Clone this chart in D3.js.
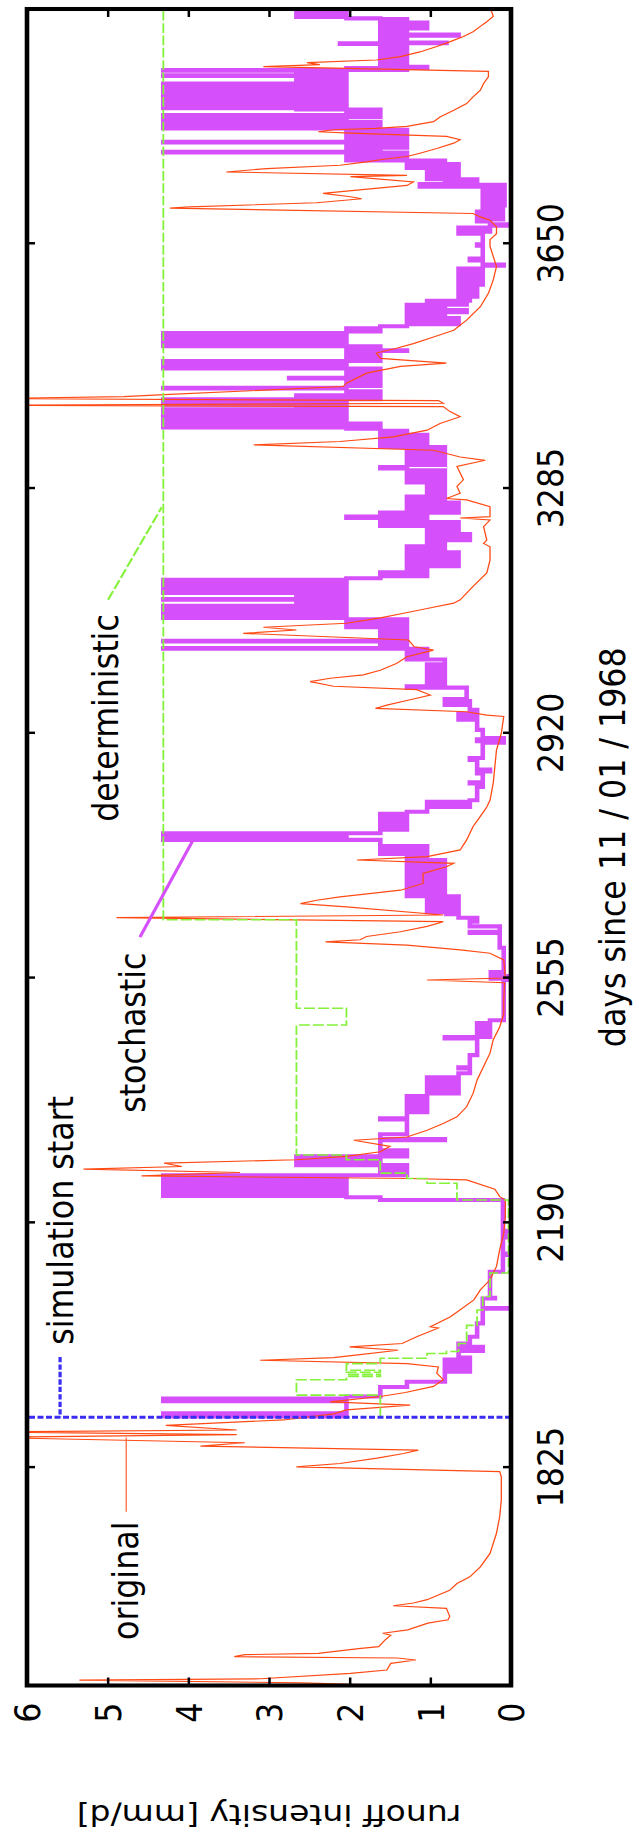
<!DOCTYPE html>
<html>
<head>
<meta charset="UTF-8">
<title>runoff intensity</title>
<script src="https://d3js.org/d3.v7.min.js"></script>
<style>
  body { margin: 0; background: #fff; }
  svg text { font-family: "DejaVu Sans", sans-serif; fill: #000; }
</style>
</head>
<body>
<div id="chart"></div>
<script>
// days since 11/01/1968 and runoff intensity [mm/d]
const dayRange = [1500, 4000];
const runoffRange = [0, 6];
const dayTicks = [1825, 2190, 2555, 2920, 3285, 3650];
const runoffTicks = [0, 1, 2, 3, 4, 5, 6];
const simulationStart = 1900;

const original = [
  [1500,1.45],[1504,2.6],[1508,5.35],[1510,3.1],[1518,1.99],[1523,1.54],[1533,1.49],[1538,1.18],[1541,1.41],[1543,3.43],[1546,3.3],[1548,2.39],[1555,1.89],[1558,1.64],[1568,1.56],[1575,1.49],[1578,1.59],[1583,1.28],[1593,1.03],[1598,0.78],
  [1603,0.76],[1615,0.8],[1619,1.46],[1623,1.21],[1628,1.04],[1642,0.76],[1652,0.67],[1662,0.51],[1677,0.38],[1697,0.26],[1727,0.18],[1752,0.14],[1777,0.12],[1811,0.12],[1819,0.14],[1826,2.66],[1831,2.12],[1839,1.66],[1846,1.33],[1851,1.15],[1857,3.85],[1862,3.3],[1870,6.5],[1874,3.4],[1878,6.5],[1881,3.4],[1888,4.28],
  [1896,2.82],[1905,2.2],[1911,2.04],[1918,1.25],[1923,2.24],[1931,1.62],[1937,1.31],[1946,0.96],[1956,0.84],[1966,0.92],[1975,0.9],[1980,1.29],[1985,3.11],[1989,2.2],[1993,1.9],[2000,1.4],[2005,2.0],[2010,1.35],[2020,1.17],[2033,0.9],[2035,1.0],[2050,0.75],[2075,0.46],[2090,0.38],[2105,0.26],[2125,0.18],[2150,0.14],[2174,0.09],[2199,0.07],[2224,0.07],
  [2229,0.14],[2240,0.2],[2254,0.55],[2256,1.25],[2260,4.58],[2265,3.36],[2270,5.3],[2274,4.08],[2279,4.3],[2284,2.66],[2289,2.04],[2296,1.62],[2304,1.5],[2313,1.95],[2318,1.29],[2328,1.04],[2338,0.84],[2348,0.67],[2363,0.55],[2383,0.47],[2403,0.42],[2423,0.34],[2443,0.26],[2463,0.22],[2482,0.14],[2502,0.09],[2522,0.09],[2548,0.08],[2552,1.04],[2555,0.07],[2582,0.09],[2592,0.26],[2597,0.63],[2604,1.29],[2609,2.3],[2612,1.87],[2617,1.79],[2624,1.37],[2632,1.04],[2639,0.84],[2645,4.89],[2649,0.84],[2661,2.04],[2666,2.61],[2671,2.41],[2676,2.12],[2686,1.37],[2696,1.09],[2711,1.09],[2721,0.8],[2726,0.71],[2731,1.91],[2736,1.04],[2746,0.63],[2761,0.55],[2781,0.47],[2796,0.38],[2810,0.3],
  [2820,0.26],[2846,0.22],[2895,0.18],[2920,0.12],[2945,0.09],[2947,0.3],[2952,0.55],[2957,1.68],[2962,1.54],[2970,1.25],[2977,1.0],[2985,1.17],[2990,2.2],[2997,2.49],[3002,2.24],[3007,1.83],[3014,1.62],[3024,1.42],[3034,1.29],[3044,0.96],[3049,1.2],[3059,1.27],[3069,3.32],[3074,2.66],[3078,3.07],[3084,2.04],[3092,1.62],[3099,1.33],[3106,1.04],[3114,0.71],[3119,0.63],[3139,0.47],[3159,0.3],[3178,0.26],[3198,0.26],[3203,0.34],[3208,0.3],[3228,0.34],[3238,0.26],[3241,0.63],[3243,0.26],[3258,0.26],[3268,0.55],[3270,0.8],[3278,0.63],[3288,0.67],[3298,0.59],[3318,0.67],[3327,0.32],[3332,0.63],[3342,0.96],[3350,3.19],[3355,2.12],[3362,1.46],[3372,1.04],[3382,0.88],[3392,0.63],[3400,0.76],[3407,0.84],
  [3409,6.5],[3412,0.84],[3416,0.9],[3419,6.5],[3422,4.8],[3425,4.3],[3437,2.08],[3442,2.04],[3457,1.79],[3467,1.37],[3472,0.8],[3479,1.62],[3487,1.67],[3494,1.42],[3501,1.21],[3511,0.96],[3521,0.71],[3536,0.55],[3556,0.38],[3576,0.28],[3596,0.22],[3616,0.18],[3631,0.22],[3646,0.26],[3656,0.26],[3665,0.18],[3675,0.18],[3685,0.26],[3690,0.38],[3695,0.47],[3703,4.23],[3705,3.98],[3711,2.41],[3717,1.85],[3720,1.99],[3725,2.33],[3730,1.91],[3737,1.29],[3742,1.21],[3750,1.99],[3752,1.29],[3757,3.53],[3762,3.03],[3767,2.12],[3772,1.79],[3776,1.58],[3780,1.29],[3785,1.13],[3792,0.92],[3800,0.71],[3805,0.63],[3810,0.8],[3815,1.99],[3817,2.39],[3820,2.2],[3822,1.67],[3825,1.29],[3832,0.96],[3839,0.88],[3849,0.71],[3859,0.55],[3869,0.47],[3879,0.38],[3889,0.34],[3899,0.28],[3907,0.28],[3914,3.07],[3917,2.37],[3920,2.53],[3924,1.67],[3929,1.37],[3936,1.13],[3944,0.92],[3951,0.76],[3959,0.59],[3966,0.47],[3974,0.38],[3981,0.3],[3989,0.22],[3996,0.24],[4000,0.26]
];

const stochastic = [
  [1900,4.31],[1901,2.04],[1902,4.31],[1903,2.66],[1904,4.31],[1906,2.04],
  [1924,4.31],[1925,2.66],[1926,4.31],[1928,2.04],
  [1931,1.62],[1945,1.29],[1953,0.82],
  [1968,0.51],[1971,0.82],[1974,0.51],[1977,0.82],[1980,0.51],[1983,0.82],[1986,0.51],[1989,0.65],
  [1999,0.35],[2000,0.65],[2004,0.35],[2005,0.65],
  [2010,0.51],[2020,0.42],[2040,0.35],[2062,0.01],[2063,0.35],[2077,0.2],[2078,0.26],[2117,0.1],[2142,0.01],[2144,0.1],[2168,0.01],[2170,0.1],[2176,0.01],[2178,0.1],
  [2224,1.62],[2228,2.04],[2230,4.31],[2231,2.04],[2233,4.31],[2234,2.04],[2236,4.31],[2237,2.04],[2239,4.31],[2240,2.04],[2242,4.31],[2243,2.04],[2245,4.31],[2246,2.04],[2248,4.31],[2249,2.04],[2251,4.31],[2252,2.04],[2254,4.31],[2255,2.04],[2257,4.31],[2258,2.04],[2260,4.31],
  [2261,1.29],[2263,1.62],[2264,1.29],[2267,1.62],[2268,1.29],[2271,1.62],[2272,1.29],[2276,2.66],[2277,1.62],[2279,2.66],[2280,1.62],[2282,2.66],[2283,1.62],[2285,2.66],[2286,1.62],[2288,2.66],[2289,1.29],
  [2292,1.62],[2293,1.29],[2298,1.62],[2313,0.82],[2315,1.62],[2322,1.29],[2344,1.62],[2346,1.29],
  [2355,1.04],[2358,1.29],[2361,1.04],[2364,1.29],[2367,1.04],[2370,1.29],[2373,1.04],[2376,1.29],[2379,1.04],
  [2383,0.65],[2386,1.04],[2389,0.65],[2392,1.04],[2395,0.65],[2398,1.04],[2401,0.65],[2404,1.04],[2407,0.65],
  [2413,0.51],[2420,0.65],[2422,0.51],[2440,0.42],[2465,0.82],[2467,0.26],[2470,0.42],
  [2476,0.26],[2479,0.42],[2482,0.26],[2485,0.42],[2488,0.26],[2492,0.09],
  [2552,0.01],[2554,0.25],[2556,0.01],[2558,0.09],[2562,0.25],[2564,0.09],
  [2600,0.14],[2622,0.51],[2624,0.14],[2632,0.51],[2639,0.42],[2645,0.65],[2650,0.8],
  [2653,1.04],[2656,0.65],[2659,1.04],[2662,0.65],[2665,1.04],[2668,0.65],[2671,1.04],[2674,0.65],
  [2677,1.29],[2680,0.82],[2683,1.29],[2686,0.82],[2689,1.29],[2692,0.82],[2695,1.29],[2698,0.82],[2701,1.29],[2704,0.82],[2707,1.29],[2710,0.82],
  [2713,1.29],[2716,0.82],[2719,1.29],[2722,0.82],[2725,1.29],[2728,0.82],[2731,1.29],[2734,1.04],
  [2740,1.62],[2742,1.04],[2746,1.62],[2748,1.04],[2752,1.62],
  [2761,4.31],[2762,2.04],[2766,4.31],[2767,2.04],[2770,4.31],[2771,1.62],
  [2776,1.29],[2779,1.62],[2782,1.29],[2785,1.62],[2788,1.29],[2791,1.62],[2794,1.29],[2797,1.62],[2800,1.29],
  [2803,1.04],[2810,0.51],[2813,1.04],[2818,0.51],
  [2820,0.42],[2840,0.35],[2845,0.51],[2847,0.35],[2860,0.42],[2863,0.26],[2866,0.42],[2880,0.51],[2883,0.35],[2906,0.09],[2908,0.42],[2911,0.09],[2913,0.35],[2925,0.42],
  [2940,0.65],[2943,0.42],[2946,0.65],[2949,0.42],[2955,0.51],[2962,0.82],[2965,0.51],[2968,0.82],[2971,0.55],
  [2988,1.29],[2990,0.82],
  [2996,1.04],[2999,0.82],[3002,1.04],[3005,0.82],[3008,1.04],[3011,0.82],[3014,1.04],[3017,0.82],[3020,1.04],[3023,0.82],
  [3030,1.29],[3032,1.04],[3036,1.29],[3039,1.04],[3042,1.29],[3045,1.04],
  [3046,4.31],[3047,1.29],[3050,1.62],[3053,1.29],[3057,4.31],[3058,1.62],[3061,1.29],[3064,1.62],[3067,1.29],[3070,1.62],[3073,1.29],[3076,1.62],
  [3078,2.04],[3081,1.29],[3084,2.04],[3087,1.29],[3090,2.04],
  [3092,4.31],[3093,2.04],[3095,2.66],[3097,2.04],[3099,4.31],[3100,2.66],[3102,2.04],[3104,4.31],[3105,2.04],[3107,2.66],[3109,4.31],[3110,2.04],[3113,2.66],[3115,2.04],[3119,4.31],[3120,2.66],[3123,2.04],[3125,2.66],[3129,4.31],[3130,2.04],[3133,2.66],[3136,4.31],[3137,2.04],[3141,4.31],[3142,2.66],[3145,2.04],[3148,4.31],[3149,2.04],[3151,1.62],
  [3154,1.04],[3157,1.62],[3160,1.29],[3163,1.04],[3166,1.29],
  [3169,0.65],[3172,1.29],[3175,0.65],[3178,1.29],[3181,0.65],[3184,1.29],[3187,0.65],[3190,1.29],[3193,0.82],[3196,1.29],[3199,0.82],
  [3205,1.04],[3208,0.51],[3211,1.04],[3214,0.51],[3217,1.04],[3220,0.65],[3223,1.04],[3226,0.65],
  [3229,1.62],[3232,0.65],[3235,1.62],[3238,1.04],[3241,2.04],[3243,1.04],[3246,1.62],
  [3249,0.65],[3252,1.29],[3255,0.65],[3258,1.29],[3261,0.65],[3264,1.29],[3267,0.82],[3270,1.29],[3273,1.04],
  [3276,0.82],[3279,1.04],[3282,0.82],[3285,1.04],[3288,0.82],[3291,1.04],[3294,1.29],
  [3297,0.82],[3300,1.29],[3303,0.82],[3306,1.29],[3309,0.82],[3312,1.29],[3315,1.62],[3317,1.29],[3320,0.82],[3323,1.29],[3326,0.82],[3329,1.29],[3332,0.82],[3335,1.29],[3338,0.82],[3341,1.29],[3344,0.82],[3347,1.62],
  [3350,1.04],[3353,1.62],[3356,1.04],[3359,1.62],[3362,1.04],[3365,1.62],[3368,1.29],[3371,1.62],
  [3374,2.04],[3376,4.31],[3377,2.04],[3380,1.62],[3382,4.31],[3383,2.04],[3386,2.66],[3388,4.31],[3389,2.04],[3392,4.31],[3393,2.66],[3396,2.04],[3398,4.31],[3399,2.04],[3402,4.31],[3403,2.66],[3406,2.04],[3410,4.31],[3411,2.04],
  [3414,2.66],[3417,4.31],[3418,1.62],[3421,2.66],[3424,2.04],[3427,1.62],[3430,2.04],[3434,4.31],[3435,2.04],
  [3438,1.62],[3441,2.04],[3444,1.62],[3447,2.04],[3449,2.75],[3450,1.62],[3453,2.04],[3456,1.62],
  [3459,2.04],[3462,1.62],[3464,4.31],[3465,2.04],[3469,4.31],[3470,2.04],[3474,4.31],[3475,1.62],[3478,2.04],[3481,1.62],[3484,2.04],
  [3487,1.62],[3490,1.29],[3491,2.04],[3494,1.62],
  [3497,4.31],[3498,2.04],[3501,4.31],[3502,2.66],[3504,2.04],[3506,4.31],[3507,2.04],[3510,2.66],[3511,4.31],[3512,2.04],[3514,2.66],[3516,4.31],[3517,2.04],[3519,1.62],
  [3522,2.04],[3524,1.62],
  [3527,1.29],[3530,0.65],[3533,1.29],[3536,0.65],[3539,1.29],[3542,0.82],[3545,1.29],
  [3548,0.55],[3551,1.29],[3554,0.82],[3557,1.29],[3559,0.55],[3562,1.04],[3565,0.51],
  [3568,0.65],[3571,0.42],[3574,0.65],[3577,0.42],[3580,0.65],[3583,0.42],[3586,0.65],
  [3589,0.35],[3592,0.65],[3595,0.35],[3598,0.65],[3601,0.35],[3604,0.65],[3607,0.35],[3610,0.65],[3613,0.35],
  [3617,0.09],[3619,0.35],[3625,0.51],[3628,0.35],[3647,0.42],[3649,0.35],
  [3665,0.65],[3668,0.26],[3671,0.65],[3674,0.26],[3677,0.01],[3679,0.26],
  [3683,0.42],[3686,0.1],[3689,0.42],[3692,0.1],[3695,0.42],[3698,0.1],
  [3704,0.35],[3707,0.08],[3710,0.35],[3713,0.08],[3716,0.35],[3719,0.08],[3722,0.35],[3725,0.08],[3728,0.35],[3731,0.08],
  [3735,1.13],[3736,0.08],[3738,1.13],[3739,0.42],[3741,0.82],[3743,0.42],
  [3746,1.04],[3749,0.65],[3752,1.04],[3755,0.65],[3758,1.04],[3761,0.65],
  [3763,1.29],[3766,0.65],[3769,1.29],[3772,0.82],
  [3774,2.04],[3777,1.29],[3780,2.04],[3783,1.29],
  [3786,4.31],[3787,1.62],[3790,2.04],[3793,1.29],[3796,2.04],[3799,1.29],[3801,4.31],[3802,1.62],
  [3805,1.29],[3808,2.04],[3811,1.29],[3814,2.04],[3817,1.29],[3820,2.04],
  [3822,4.31],[3823,1.62],[3826,2.04],[3828,4.31],[3829,1.62],[3832,2.04],[3835,4.31],[3836,2.04],[3839,1.62],[3841,4.31],[3842,1.62],
  [3845,2.04],[3847,1.62],
  [3850,2.66],[3852,4.31],[3853,2.04],[3856,2.66],[3858,4.31],[3859,2.04],[3862,2.66],[3864,4.31],[3865,2.04],[3867,4.31],[3868,2.66],[3871,4.31],[3872,2.04],[3874,4.31],[3875,2.66],[3878,4.31],[3879,2.04],[3881,4.31],[3882,2.66],[3885,4.31],[3886,2.04],[3888,4.31],[3889,2.66],[3892,2.04],[3894,2.66],[3897,2.04],[3900,4.31],[3901,2.04],[3903,2.66],[3906,2.04],[3908,4.31],[3909,1.29],
  [3911,2.04],[3912,1.04],[3914,1.62],
  [3917,1.29],[3920,1.62],[3923,1.29],[3926,1.62],[3929,1.29],[3932,1.62],[3935,1.29],[3938,1.62],[3941,1.29],[3944,1.62],
  [3948,2.12],[3949,0.8],[3950,1.62],
  [3953,1.29],[3956,1.62],[3960,0.65],[3962,1.29],[3965,1.62],[3968,1.29],
  [3971,1.04],[3974,1.62],[3977,1.04],[3980,1.62],[3983,1.29],
  [3985,1.62],[3986,2.04],[3988,2.66],[3991,2.04],[3994,2.66],[3997,2.04],[3999,2.66],[4000,2.66]
];

const deterministic = [
  [1900,1.62],[1933,2.66],[1956,2.04],[1961,1.62],[1964,2.04],[1967,1.62],[1970,2.04],[1980,1.62],[1988,1.04],[1995,0.8],[1998,0.65],[2010,0.55],[2037,0.42],[2060,0.35],[2080,0.26],[2115,0.03],
  [2224,0.67],[2249,1.04],[2256,1.29],[2264,1.62],[2284,2.04],[2291,2.66],[2485,2.04],[2510,2.66],[2642,4.31],[4000,4.31]
];

// page layout: the gnuplot figure is turned a quarter turn and squeezed along its day axis
const pageW = 639, pageH = 1841;
const frame = {left: 27, right: 511, top: 9, bottom: 1685.5};
const squeeze = 0.88;
const W = (frame.bottom - frame.top) / squeeze,
      H = frame.right - frame.left;
const fontSize = 36;

const svg = d3.select("#chart").append("svg")
  .attr("width", pageW).attr("height", pageH);

const g = svg.append("g")
  .attr("transform", `translate(${frame.left},${frame.bottom}) rotate(-90) scale(${squeeze},1)`);

const x = d3.scaleLinear().domain(dayRange).range([0, W]);
const y = d3.scaleLinear().domain(runoffRange).range([H, 0]);

g.append("clipPath").attr("id", "plotClip")
  .append("rect").attr("width", W).attr("height", H);

const plot = g.append("g").attr("clip-path", "url(#plotClip)");

const stepLine = d3.line().curve(d3.curveStepAfter).x(d => x(d[0])).y(d => y(d[1]));
const plainLine = d3.line().x(d => x(d[0])).y(d => y(d[1]));

plot.append("path").datum(stochastic)
  .attr("d", stepLine)
  .attr("fill", "none").attr("stroke", "#d54ffb")
  .attr("stroke-width", 4.6).attr("stroke-linejoin", "miter");

plot.append("path").datum(original)
  .attr("d", plainLine)
  .attr("fill", "none").attr("stroke", "#ff4a14")
  .attr("stroke-width", 1.3);

plot.append("path").datum(deterministic)
  .attr("d", stepLine)
  .attr("fill", "none").attr("stroke", "#84f23a")
  .attr("stroke-width", 1.8).attr("stroke-dasharray", "11,3");

plot.append("line")
  .attr("x1", x(simulationStart)).attr("x2", x(simulationStart))
  .attr("y1", y(0)).attr("y2", y(6))
  .attr("stroke", "#3b2df2").attr("stroke-width", 3.6)
  .attr("stroke-dasharray", "6,2.5");

// axes: inward, mirrored ticks
function styleAxis(sel) {
  sel.select(".domain").remove();
  sel.selectAll(".tick line").attr("stroke", "#000");
}

const xBottom = g.append("g").attr("transform", `translate(0,${H})`)
  .call(d3.axisBottom(x).tickValues(dayTicks).tickSize(-8).tickFormat(d3.format("d")))
  .call(styleAxis);
xBottom.selectAll(".tick line").attr("stroke-width", 2.8);
xBottom.selectAll(".tick text")
  .attr("y", 39).attr("dy", "0.36em")
  .style("font-size", fontSize + "px");

g.append("g")
  .call(d3.axisTop(x).tickValues(dayTicks).tickSize(-8).tickFormat(""))
  .call(styleAxis)
  .selectAll(".tick line").attr("stroke-width", 2.8);

const yLeft = g.append("g")
  .call(d3.axisLeft(y).tickValues(runoffTicks).tickSize(-8 / squeeze).tickFormat(d3.format("d")))
  .call(styleAxis);
yLeft.selectAll(".tick line").attr("stroke-width", 2.5);
yLeft.selectAll(".tick text")
  .attr("x", -31).attr("dy", "0.36em").attr("text-anchor", "middle")
  .style("font-size", fontSize + "px");

g.append("g").attr("transform", `translate(${W},0)`)
  .call(d3.axisRight(y).tickValues(runoffTicks).tickSize(-8 / squeeze).tickFormat(""))
  .call(styleAxis)
  .selectAll(".tick line").attr("stroke-width", 2.5);

g.append("rect")
  .attr("width", W).attr("height", H)
  .attr("fill", "none").attr("stroke", "#000").attr("stroke-width", 4.6);

// axis titles
g.append("text")
  .attr("x", W / 2).attr("y", 598)
  .attr("text-anchor", "middle")
  .style("font-size", fontSize + "px")
  .text("days since 11 / 01 / 1968");

g.append("text")
  .attr("transform", `translate(-147,${H / 2}) rotate(-90)`)
  .attr("text-anchor", "middle").attr("dy", "0.35em")
  .style("font-size", "33px")
  .text("runoff intensity [mm/d]");

// curve labels with pointer lines
const notes = [
  {text: "original", day: 1568, v: 4.62, color: "#ff6a3a", dash: null, width: 1.3, from: [1759, 4.77], to: [1870, 4.77]},
  {text: "simulation start", day: 2008, v: 5.43, color: "#3b2df2", dash: "6,2.5", width: 3.2, from: [1990, 5.59], to: [1900, 5.59]},
  {text: "stochastic", day: 2354, v: 4.54, color: "#d54ffb", dash: null, width: 3.2, from: [2616, 4.60], to: [2761, 3.94]},
  {text: "deterministic", day: 2788, v: 4.87, color: "#84f23a", dash: "11,3", width: 2.2, from: [3119, 4.995], to: [3257, 4.33]}
];

notes.forEach(n => {
  g.append("text")
    .attr("x", x(n.day)).attr("y", y(n.v))
    .style("font-size", fontSize + "px")
    .text(n.text);
  g.append("line")
    .attr("x1", x(n.from[0])).attr("y1", y(n.from[1]))
    .attr("x2", x(n.to[0])).attr("y2", y(n.to[1]))
    .attr("stroke", n.color).attr("stroke-width", n.width)
    .attr("stroke-dasharray", n.dash);
});
</script>
</body>
</html>
